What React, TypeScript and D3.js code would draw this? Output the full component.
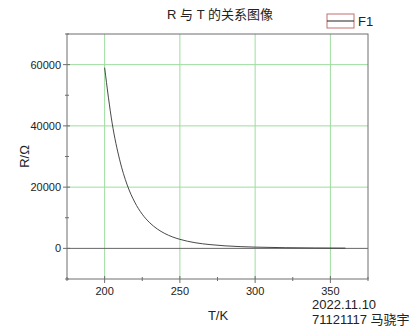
import React from "react";
import * as d3 from "d3";

const temps = [200, 205, 210, 215, 220, 225, 230, 235, 240, 245, 250, 260, 270, 280, 290, 300, 320, 340, 360];
const resist = [59000, 40900, 28900, 20700, 15100, 11150, 8350, 6330, 4850, 3760, 2950, 1860, 1230, 830, 575, 410, 220, 130, 80];
const xMajor = [200, 250, 300, 350];
const xMinor = [175, 225, 275, 325, 375];
const yMajor = [0, 20000, 40000, 60000];
const yMinor = [-10000, 10000, 30000, 50000, 70000];

export default function App() {
  const W = 413, H = 329;
  const L = 67, R = 368, T = 34, B = 279;
  const x = d3.scaleLinear().domain([175, 375]).range([L, R]);
  const y = d3.scaleLinear().domain([-10000, 70000]).range([B, T]);
  const line = d3.line<number>().x((d, i) => x(temps[i])).y((d) => y(d)).curve(d3.curveMonotoneX);
  const font = "'Liberation Sans', Arial, 'Noto Sans CJK SC', sans-serif";
  const grid = "#9edc9e";
  const axis = "#6e6e6e";
  return (
    <svg width={W} height={H} style={{ position: "absolute", left: 0, top: 0, background: "#fff" }} fontFamily={font}>
      <rect x={0} y={0} width={W} height={H} fill="#fff" />
      {xMajor.map((v) => (
        <line key={"gx" + v} x1={x(v)} x2={x(v)} y1={T} y2={B} stroke={grid} strokeWidth={1} />
      ))}
      {yMajor.filter((v) => v !== 0).map((v) => (
        <line key={"gy" + v} x1={L} x2={R} y1={y(v)} y2={y(v)} stroke={grid} strokeWidth={1} />
      ))}
      <line x1={L} x2={R} y1={y(0)} y2={y(0)} stroke="#666" strokeWidth={1} />
      <rect x={L} y={T} width={R - L} height={B - T} fill="none" stroke={axis} strokeWidth={1} />
      {xMajor.map((v) => (
        <g key={"tx" + v}>
          <line x1={x(v)} x2={x(v)} y1={B - 3} y2={B + 4} stroke={axis} />
          <text x={x(v)} y={B + 16} fontSize={11} textAnchor="middle" fill="#222">{v}</text>
        </g>
      ))}
      {xMinor.map((v) => (
        <line key={"mx" + v} x1={x(v)} x2={x(v)} y1={B - 2} y2={B + 2} stroke={axis} />
      ))}
      {yMajor.map((v) => (
        <g key={"ty" + v}>
          <line x1={L - 4} x2={L + 3} y1={y(v)} y2={y(v)} stroke={axis} />
          <text x={L - 6} y={y(v) + 4} fontSize={11} textAnchor="end" fill="#222">{v}</text>
        </g>
      ))}
      {yMinor.map((v) => (
        <line key={"my" + v} x1={L - 2} x2={L + 2} y1={y(v)} y2={y(v)} stroke={axis} />
      ))}
      <path d={line(resist) || ""} fill="none" stroke="#333" strokeWidth={0.9} />
      <text x={220} y={19} fontSize={13} textAnchor="middle" fill="#222">R 与 T 的关系图像</text>
      <rect x={327} y={14} width={27} height={14} fill="none" stroke="#c07070" strokeWidth={1} />
      <line x1={327} x2={354} y1={21} y2={21} stroke="#222" strokeWidth={1} />
      <text x={358} y={26} fontSize={13} fill="#222">F1</text>
      <text transform={`translate(29,${(T + B) / 2}) rotate(-90)`} fontSize={13} textAnchor="middle" fill="#222">R/Ω</text>
      <text x={218} y={320} fontSize={13} textAnchor="middle" fill="#222">T/K</text>
      <text x={312} y={309} fontSize={13} fill="#222">2022.11.10</text>
      <text x={312} y={324} fontSize={13} fill="#222">71121117 马骁宇</text>
    </svg>
  );
}
